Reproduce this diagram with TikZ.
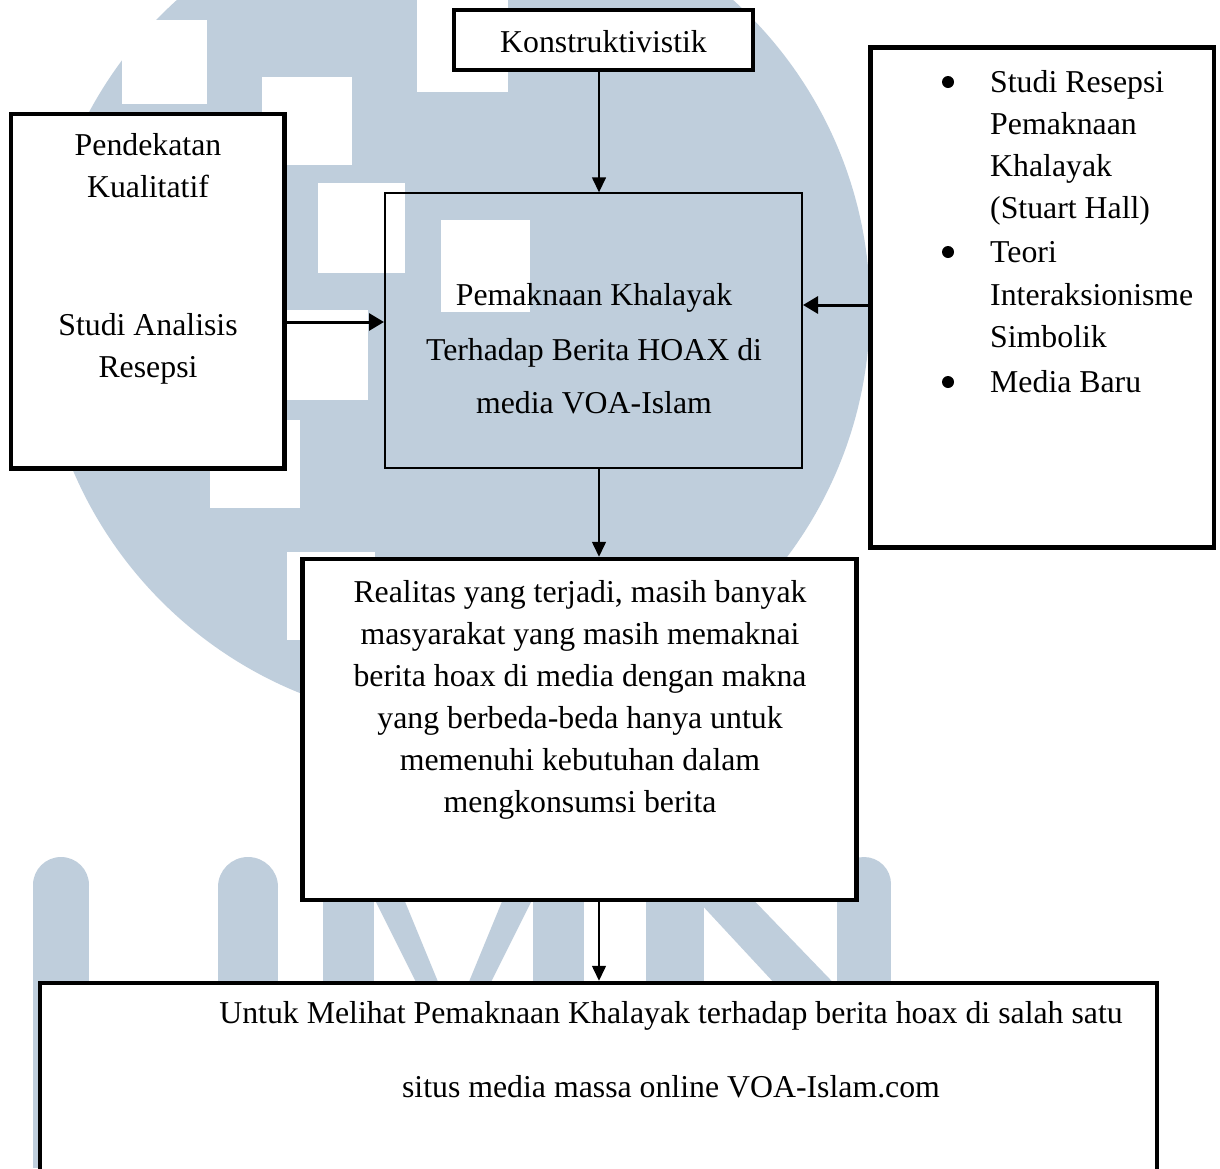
\documentclass[tikz,border=0pt]{standalone}
\usepackage{fontspec}
\setmainfont{Liberation Serif}
\usetikzlibrary{arrows.meta}
\definecolor{wm}{RGB}{191,206,220}
\begin{document}
\begin{tikzpicture}[x=1pt,y=-1pt,
  box/.style={draw=black, fill=white, line width=4.5pt, rectangle, inner sep=0pt},
  thinbox/.style={draw=black, line width=2pt, rectangle, inner sep=0pt},
  txt/.style={anchor=base, inner sep=0pt, font=\fontsize{31.8pt}{38pt}\selectfont},
  ltxt/.style={txt, anchor=base west},
  bullet/.style={circle, fill=black, inner sep=0pt, minimum size=12pt},
  varr/.style={-{Triangle[length=15pt,width=14pt]}, line width=1.5pt},
  harr/.style={-{Triangle[length=15pt,width=17pt]}, line width=3pt}]
\useasboundingbox (0,0) rectangle (1220,1168);
\clip (0,0) rectangle (1220,1168);
\fill[white] (0,0) rectangle (1220,1168);
% watermark
\fill[wm] (455,308) circle[radius=415];
\foreach \a/\b/\c/\d in {122/20/207/104, 262/77/352/165, 318/183/405/273, 441/220/530/312,
  280/310/368/400, 210/420/300/508, 287/552/375/640, 417/-5/508/92}
  {\fill[white] (\a,\b) rectangle (\c,\d);}
\fill[wm] (61,885) circle[radius=28];
\fill[wm] (33,885) rectangle (89,1168);
\fill[wm] (248,887) circle[radius=30];
\fill[wm] (218,887) rectangle (278,1168);
\fill[wm] (323,870) rectangle (374,1168);
\fill[wm] (533,870) rectangle (584,1168);
\fill[wm] (360,870) -- (392,870) -- (462,1040) -- (445,1040) -- cycle;
\fill[wm] (547,870) -- (515,870) -- (445,1040) -- (462,1040) -- cycle;
\fill[wm] (646,870) rectangle (704,1168);
\fill[wm] (864,884) circle[radius=27];
\fill[wm] (837,884) rectangle (891,1168);
\fill[wm] (660,860) -- (715,860) -- (850,1000) -- (790,1000) -- cycle;
% boxes
\node[box, minimum width=299pt, minimum height=60pt] (konst) at (603.5,40) {};
\node[thinbox, minimum width=417pt, minimum height=275pt] (cbox) at (593.5,330.8) {};
\node[box, minimum width=273.5pt, minimum height=354.5pt] (left) at (147.75,291.25) {};
\node[box, minimum width=343.5pt, minimum height=500pt] (right) at (1042.25,297.5) {};
\node[box, minimum width=554pt, minimum height=341pt] (real) at (579.5,729.5) {};
\node[box, minimum width=1117pt, minimum height=247pt] (bottom) at (598.5,1106.5) {};
% texts
\node[txt] (t1) at (603.5,52) {Konstruktivistik};
\node[txt] (l1) at (148,155) {Pendekatan};
\node[txt] (l2) at (148,197) {Kualitatif};
\node[txt] (l3) at (148,335) {Studi Analisis};
\node[txt] (l4) at (148,377) {Resepsi};
\node[txt] (c1) at (594,305) {Pemaknaan Khalayak};
\node[txt] (c2) at (594,360) {Terhadap Berita HOAX di};
\node[txt] (c3) at (594,413) {media VOA-Islam};
\node[bullet] (b1) at (948,82) {};
\node[bullet] (b2) at (948,252) {};
\node[bullet] (b3) at (948,382) {};
\node[ltxt] (r1) at (990,92) {Studi Resepsi};
\node[ltxt] (r2) at (990,134) {Pemaknaan};
\node[ltxt] (r3) at (990,176) {Khalayak};
\node[ltxt] (r4) at (990,218) {(Stuart Hall)};
\node[ltxt] (r5) at (990,262) {Teori};
\node[ltxt] (r6) at (990,305) {Interaksionisme};
\node[ltxt] (r7) at (990,347) {Simbolik};
\node[ltxt] (r8) at (990,392) {Media Baru};
\node[txt] (m1) at (580,602) {Realitas yang terjadi, masih banyak};
\node[txt] (m2) at (580,644) {masyarakat yang masih memaknai};
\node[txt] (m3) at (580,686) {berita hoax di media dengan makna};
\node[txt] (m4) at (580,728) {yang berbeda-beda hanya untuk};
\node[txt] (m5) at (580,770) {memenuhi kebutuhan dalam};
\node[txt] (m6) at (580,812) {mengkonsumsi berita};
\node[txt] (u1) at (671,1023) {Untuk Melihat Pemaknaan Khalayak terhadap berita hoax di salah satu};
\node[txt] (u2) at (671,1097) {situs media massa online VOA-Islam.com};
% connectors
\coordinate (vx) at (599,0);
\coordinate (ly) at (0,322);
\coordinate (ry) at (0,305);
\draw[varr] (konst.south -| vx) -- (cbox.north -| vx);
\draw[varr] (cbox.south -| vx) -- (real.north -| vx);
\draw[varr] (real.south -| vx) -- (bottom.north -| vx);
\draw[harr] (left.east |- ly) -- (cbox.west |- ly);
\draw[harr] (right.west |- ry) -- (cbox.east |- ry);
\end{tikzpicture}
\end{document}
